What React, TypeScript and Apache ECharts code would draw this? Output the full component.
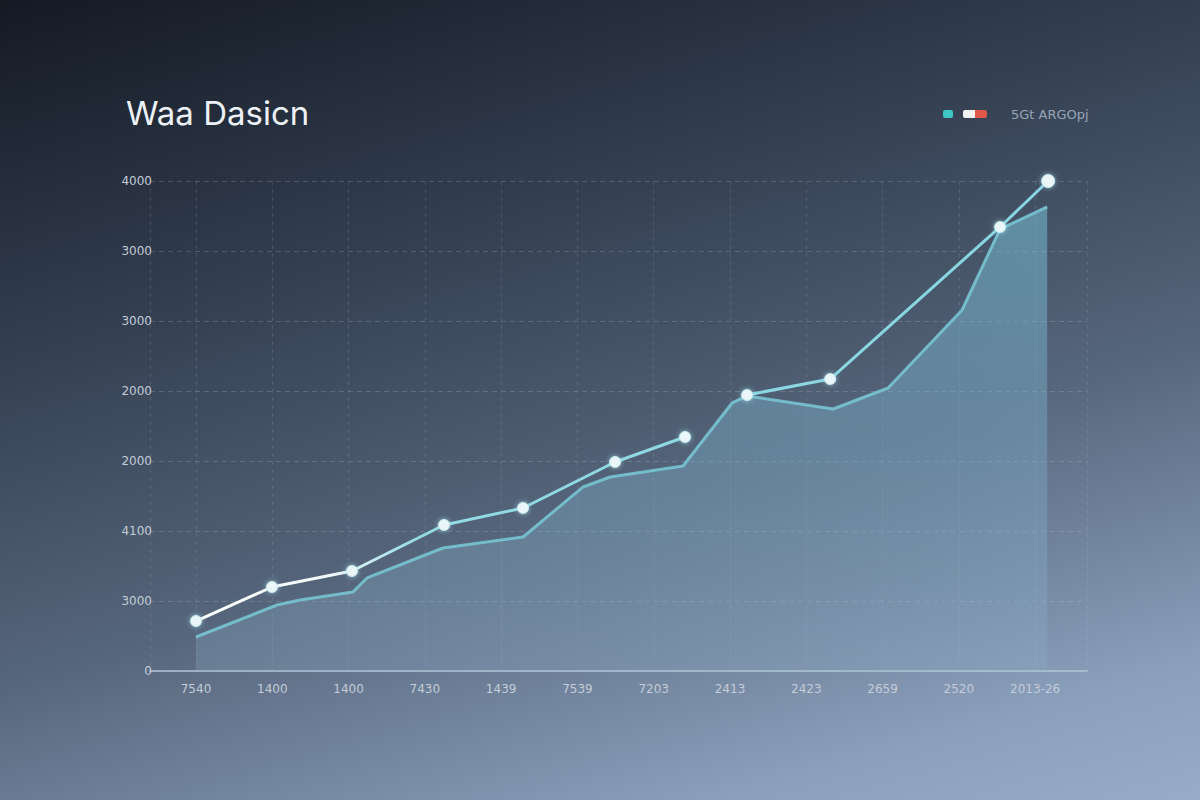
import React, { useEffect, useRef } from "react";
import * as echarts from "echarts";

const titleText = "Waa Dasicn";
const legendText = "5Gt ARGOpj";
const xLabels = ["7540", "1400", "1400", "7430", "1439", "7539", "7203", "2413", "2423", "2659", "2520", "2013-26"];
const yLabels = ["0", "3000", "4100", "2000", "2000", "3000", "3000", "4000"];

// line series (x in label-slot units, y in grid-row units); "-" = gap
const lineX = [0, 0.996, 2.045, 3.252, 4.287, 5.494, 6.411, 6.8, 7.224, 8.313, 10.541, 11.171];
const lineY: (number | string)[] = [0.714, 1.2, 1.429, 2.086, 2.329, 2.986, 3.343, "-", 3.943, 4.171, 6.343, 7.0];

// area series
const areaX = [0, 1.062, 1.364, 2.058, 2.242, 3.238, 4.287, 5.074, 5.428, 6.385, 7.028, 7.224, 8.352, 9.073, 10.043, 10.541, 11.158];
const areaY = [0.486, 0.943, 1.014, 1.129, 1.329, 1.757, 1.914, 2.629, 2.771, 2.929, 3.829, 3.929, 3.743, 4.043, 5.157, 6.314, 6.629];

export default function App() {
  const ref = useRef<HTMLDivElement>(null);
  useEffect(() => {
    if (!ref.current) return;
    const chart = echarts.init(ref.current, null, { renderer: "svg" });
    const lineData = lineX.map((x, i) => {
      const isLast = i === lineX.length - 1;
      return isLast ? { value: [x, lineY[i]], symbolSize: 13 } : [x, lineY[i]];
    });
    const areaData = areaX.map((x, i) => [x, areaY[i]]);
    chart.setOption({
      animation: false,
      backgroundColor: "transparent",
      title: {
        text: titleText,
        left: 121,
        top: 91,
        textStyle: { color: "#eef2f6", fontSize: 33, fontWeight: 400, fontFamily: "Inter" },
      },
      graphic: [
        { type: "rect", shape: { x: 943, y: 110, width: 10, height: 8, r: 2 }, style: { fill: "#3fc7c6" } },
        { type: "rect", shape: { x: 963, y: 110, width: 13, height: 8, r: [2, 0, 0, 2] }, style: { fill: "#f3f3f3" } },
        { type: "rect", shape: { x: 975, y: 110, width: 12, height: 8, r: [0, 2, 2, 0] }, style: { fill: "#e0584a" } },
        {
          type: "text", x: 1011, y: 114,
          style: { text: legendText, fill: "#98a5b5", fontSize: 13, fontFamily: "DejaVu Sans", verticalAlign: "middle" },
        },
      ],
      grid: { left: 150, right: 113, top: 181, bottom: 129 },
      xAxis: {
        type: "value",
        min: -0.603,
        max: 11.68,
        minInterval: 1,
        maxInterval: 1,
        axisLine: { show: true, lineStyle: { color: "#b3c4d6", width: 1.5 } },
        axisTick: { show: false },
        axisLabel: {
          showMinLabel: false,
          showMaxLabel: false,
          color: "#c3ccd8",
          fontSize: 12,
          margin: 12,
          fontFamily: "DejaVu Sans",
          formatter: (v: number) => {
            const r = Math.round(v);
            if (Math.abs(v - r) > 1e-6 || r < 0 || r >= xLabels.length) return "";
            return xLabels[r];
          },
        },
        splitLine: { show: true, lineStyle: { color: "rgba(200,210,225,0.15)", type: [4, 4], width: 1 } },
      },
      yAxis: {
        type: "value",
        min: 0,
        max: 7,
        interval: 1,
        axisLine: { show: false },
        axisTick: { show: false },
        axisLabel: {
          color: "#c4ccd7",
          fontSize: 12,
          margin: -2,
          fontFamily: "DejaVu Sans",
          formatter: (v: number) => yLabels[Math.round(v)] ?? "",
        },
        splitLine: { show: true, lineStyle: { color: "rgba(200,210,225,0.22)", type: [5, 4], width: 1 } },
      },
      series: [
        {
          type: "line",
          data: areaData,
          showSymbol: false,
          symbol: "none",
          lineStyle: { color: "#78c4d3", width: 3, opacity: 0.9 },
          areaStyle: {
            color: {
              type: "linear", x: 0, y: 0, x2: 0, y2: 1,
              colorStops: [
                { offset: 0, color: "rgba(118,190,210,0.8)" },
                { offset: 0.5, color: "rgba(125,180,204,0.55)" },
                { offset: 1, color: "rgba(145,178,202,0.35)" },
              ],
            },
          },
          z: 2,
        },
        {
          type: "line",
          data: lineData,
          connectNulls: false,
          symbol: "circle",
          symbolSize: 11,
          showSymbol: true,
          lineStyle: {
            width: 3,
            color: {
              type: "linear", x: 0, y: 0, x2: 1, y2: 0,
              colorStops: [
                { offset: 0, color: "#ffffff" },
                { offset: 0.16, color: "#f2f8fa" },
                { offset: 0.26, color: "#92dbe4" },
                { offset: 1, color: "#86d5e0" },
              ],
            },
          },
          itemStyle: {
            color: "#eaf6f8",
            borderColor: "#c7ecf2",
            borderWidth: 1,
            shadowBlur: 5,
            shadowColor: "rgba(170,230,240,0.7)",
          },
          z: 3,
        },
      ],
    });
    return () => chart.dispose();
  }, []);
  return (
    <div
      ref={ref}
      style={{
        position: "fixed",
        left: 0,
        top: 0,
        width: 1200,
        height: 800,
        background:
          "linear-gradient(164deg, #141a24 0%, #303b4c 28%, #56667c 60%, #8ba0bc 88%, #97acc8 100%)",
      }}
    />
  );
}
